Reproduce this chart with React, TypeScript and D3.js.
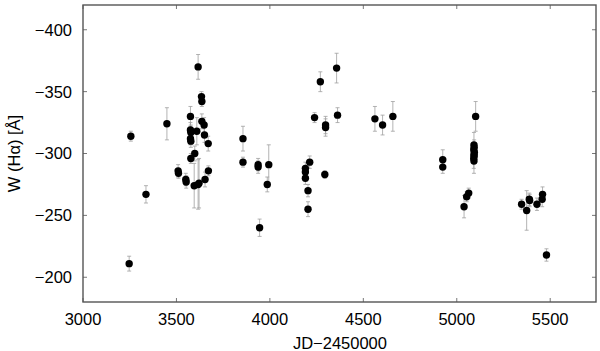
import React, { useEffect, useRef } from 'react';
import * as d3 from 'd3';

// JD-2450000, equivalent width W(Halpha) and its error
const jd = [
  3256, 3247, 3337, 3449, 3509, 3511, 3550, 3552, 3575, 3575, 3577, 3575, 3577, 3577,
  3598, 3595, 3609, 3616, 3616, 3621, 3634, 3636, 3636, 3648, 3650, 3653, 3670, 3671,
  3856, 3856, 3937, 3937, 3945, 3986, 3994, 4190, 4190, 4190, 4204, 4204, 4213, 4239,
  4270, 4294, 4298, 4298, 4357, 4362, 4562, 4603, 4658, 4925, 4925, 5039, 5053, 5064,
  5101, 5092, 5093, 5091, 5094, 5092, 5093, 5091, 5092, 5347, 5374, 5388, 5390, 5429,
  5457, 5459, 5480,
];
const ew = [
  -314, -211, -267, -324, -286, -284, -279, -277, -330, -319, -317, -312, -310, -296,
  -300, -274, -318, -370, -275, -276, -346, -342, -326, -323, -315, -279, -308, -286,
  -312, -293, -291, -289, -240, -275, -291, -288, -285, -280, -270, -255, -293, -329,
  -358, -283, -323, -321, -369, -331, -328, -323, -330, -295, -289, -257, -265, -268,
  -330, -307, -305, -303, -301, -299, -298, -296, -294, -259, -254, -263, -262, -259,
  -263, -267, -218,
];
const err = [
  4, 6, 7, 13, 5, 4, 5, 5, 8, 6, 6, 5, 5, 4,
  6, 18, 11, 10, 20, 20, 4, 4, 6, 6, 6, 6, 6, 4,
  10, 4, 5, 5, 7, 6, 16, 5, 5, 5, 5, 6, 5, 4,
  8, 3, 7, 7, 12, 6, 10, 8, 12, 8, 5, 9, 4, 4,
  12, 10, 6, 5, 4, 5, 6, 8, 10, 4, 16, 5, 5, 5,
  6, 6, 5,
];

const xTicks = [3000, 3500, 4000, 4500, 5000, 5500];
const yTicks = [-400, -350, -300, -250, -200];

const App = () => {
  const svgRef = useRef<SVGSVGElement>(null);

  useEffect(() => {
    const svg = d3.select(svgRef.current);
    svg.selectAll('*').remove();

    const width = 600;
    const height = 351;
    const margin = { top: 5, right: 4, bottom: 49, left: 83 };
    const innerWidth = width - margin.left - margin.right;
    const innerHeight = height - margin.top - margin.bottom;
    const font = '"Liberation Sans", Arial, Helvetica, sans-serif';
    const fs = 16.5;

    const x = d3.scaleLinear().domain([3000, 5745]).range([0, innerWidth]);
    const y = d3.scaleLinear().domain([-420, -180]).range([0, innerHeight]);

    const g = svg.append('g')
      .attr('transform', `translate(${margin.left},${margin.top})`);

    const data = jd.map((d, i) => ({ x: d, y: ew[i], e: err[i] }));

    // error bars
    const eb = g.append('g')
      .attr('stroke', '#a0a0a0')
      .attr('stroke-width', 0.8);
    data.forEach(d => {
      const cx = x(d.x);
      eb.append('line')
        .attr('x1', cx).attr('x2', cx)
        .attr('y1', y(d.y - d.e)).attr('y2', y(d.y + d.e));
      [d.y - d.e, d.y + d.e].forEach(v => {
        eb.append('line')
          .attr('x1', cx - 2).attr('x2', cx + 2)
          .attr('y1', y(v)).attr('y2', y(v));
      });
    });

    // points
    g.append('g')
      .selectAll('circle')
      .data(data)
      .enter().append('circle')
      .attr('cx', d => x(d.x))
      .attr('cy', d => y(d.y))
      .attr('r', 3.7)
      .attr('fill', '#000');

    // inward ticks on all sides
    const tk = g.append('g').attr('stroke', '#777').attr('stroke-width', 1);
    xTicks.forEach(t => {
      tk.append('line').attr('x1', x(t)).attr('x2', x(t)).attr('y1', innerHeight).attr('y2', innerHeight - 4);
      tk.append('line').attr('x1', x(t)).attr('x2', x(t)).attr('y1', 0).attr('y2', 4);
    });
    yTicks.forEach(t => {
      tk.append('line').attr('x1', 0).attr('x2', 4).attr('y1', y(t)).attr('y2', y(t));
      tk.append('line').attr('x1', innerWidth).attr('x2', innerWidth - 4).attr('y1', y(t)).attr('y2', y(t));
    });

    // frame
    g.append('rect')
      .attr('width', innerWidth)
      .attr('height', innerHeight)
      .attr('fill', 'none')
      .attr('stroke', '#555')
      .attr('stroke-width', 1.4);

    // tick labels
    g.append('g')
      .selectAll('text')
      .data(xTicks)
      .enter().append('text')
      .attr('x', d => x(d))
      .attr('y', innerHeight + 23)
      .attr('text-anchor', 'middle')
      .attr('font-family', font)
      .attr('font-size', fs)
      .attr('fill', '#000')
      .text(d => d);

    g.append('g')
      .selectAll('text')
      .data(yTicks)
      .enter().append('text')
      .attr('x', -11)
      .attr('y', d => y(d))
      .attr('dy', '0.36em')
      .attr('text-anchor', 'end')
      .attr('font-family', font)
      .attr('font-size', fs)
      .attr('fill', '#000')
      .text(d => `\u2212${Math.abs(d)}`);

    // axis titles
    svg.append('text')
      .attr('x', margin.left + x(4375))
      .attr('y', 349)
      .attr('text-anchor', 'middle')
      .attr('font-family', font)
      .attr('font-size', fs)
      .text('JD\u22122450000');

    svg.append('text')
      .attr('transform', `translate(20,${margin.top + y(-300)}) rotate(-90)`)
      .attr('text-anchor', 'middle')
      .attr('font-family', font)
      .attr('font-size', fs)
      .text('W (H\u03b1) [\u00c5]');
  }, []);

  return (
    <svg ref={svgRef} width={600} height={351}
      style={{ position: 'absolute', left: 0, top: 0, background: '#fff' }} />
  );
};

export default App;
